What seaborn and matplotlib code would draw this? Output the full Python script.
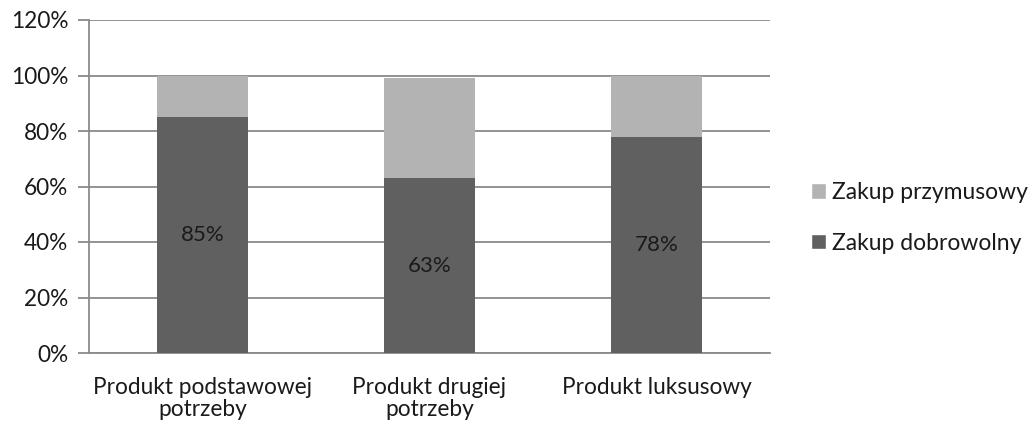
import matplotlib
matplotlib.use("Agg")
import matplotlib.pyplot as plt
from matplotlib.patches import Patch
import seaborn as sns
import pandas as pd

categories = ["Produkt podstawowej\npotrzeby", "Produkt drugiej\npotrzeby", "Produkt luksusowy"]
voluntary = [85, 63, 78]     # Zakup dobrowolny
forced = [15, 36, 22]        # Zakup przymusowy
y_ticks = [0, 20, 40, 60, 80, 100, 120]

dark = "#606060"
light = "#b3b3b3"
grid_col = "#8a8a8a"
text_col = "#1a1a1a"

sns.set_theme(style="white")
plt.rcParams["font.family"] = ["Lato", "DejaVu Sans"]

df = pd.DataFrame({
    "category": categories,
    "voluntary": voluntary,
    "total": [v + f for v, f in zip(voluntary, forced)],
})

fig = plt.figure(figsize=(10.32, 4.28), dpi=100)
ax = fig.add_axes([89 / 1032, 1 - 353 / 428, (770 - 89) / 1032, (353 - 20) / 428])

# stacked bars: full height in light grey, voluntary share in dark grey on top
sns.barplot(data=df, x="category", y="total", color=light, width=0.4,
            saturation=1, ax=ax, zorder=3, linewidth=0)
sns.barplot(data=df, x="category", y="voluntary", color=dark, width=0.4,
            saturation=1, ax=ax, zorder=4, linewidth=0)

for i, v in enumerate(voluntary):
    ax.text(i, v / 2, f"{v}%", ha="center", va="center", fontsize=16,
            color=text_col, zorder=5)

ax.set_ylim(0, 120)
ax.set_xlim(-0.5, 2.5)
ax.set_yticks(y_ticks)
ax.set_yticklabels([f"{t}%" for t in y_ticks], fontsize=16.3, color=text_col)
ax.yaxis.grid(True, color=grid_col, linewidth=1.3, zorder=0)
ax.set_axisbelow(True)
ax.set_xlabel("")
ax.set_ylabel("")

ax.tick_params(axis="x", which="major", length=0, labelsize=16.3, labelcolor=text_col, pad=17)
for lbl in ax.get_xticklabels():
    lbl.set_linespacing(1.1)
ax.set_xticks([-0.5, 0.5, 1.5, 2.5], minor=True)
ax.tick_params(axis="x", which="minor", length=7, width=1.3, color=grid_col)
ax.tick_params(axis="y", length=8, width=1.3, color=grid_col, pad=7, left=True)

for s in ["top", "right"]:
    ax.spines[s].set_visible(False)
ax.spines["left"].set_color(grid_col)
ax.spines["left"].set_linewidth(1.3)
ax.spines["bottom"].set_color(grid_col)
ax.spines["bottom"].set_linewidth(1.3)

handles = [Patch(facecolor=light, label="Zakup przymusowy"),
           Patch(facecolor=dark, label="Zakup dobrowolny")]
fig.legend(handles=handles, loc="center left", bbox_to_anchor=(790 / 1032, 1 - 218 / 428),
           frameon=False, fontsize=16.5, handlelength=0.65, handleheight=0.65,
           handletextpad=0.3, labelspacing=1.3, labelcolor=text_col)

fig.savefig("out.png", dpi=100)
